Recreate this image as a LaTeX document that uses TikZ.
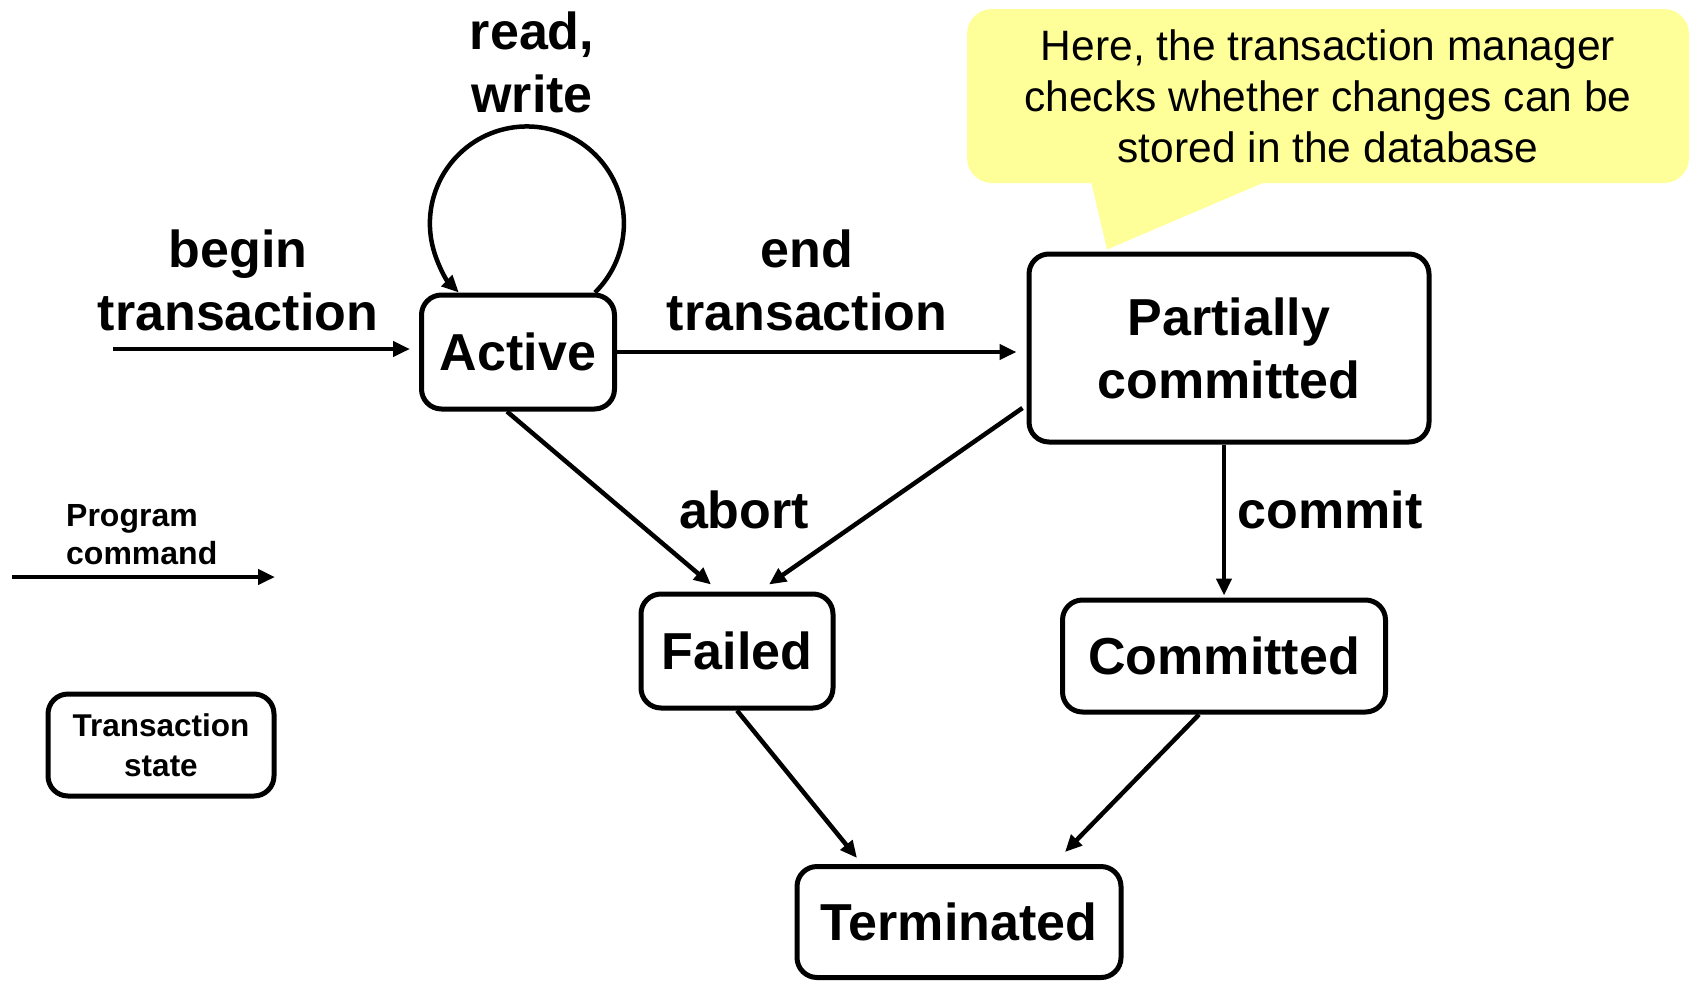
\documentclass[tikz,border=0pt]{standalone}
\usepackage{fontspec}
\setmainfont{Liberation Sans}
\usetikzlibrary{arrows.meta}
\definecolor{noteyellow}{RGB}{255,255,153}
\begin{document}
\begin{tikzpicture}[x=1pt,y=-1pt,
  state/.style={draw, line width=5pt, rounded corners=20pt, align=center, inner sep=0pt,
    font=\bfseries\fontsize{52}{63}\selectfont},
  lbl/.style={align=center, inner sep=0pt, font=\bfseries\fontsize{52}{63}\selectfont},
  arr/.style={line width=4.5pt, -{Triangle[length=17pt,width=15pt]}},
  notebox/.style={fill=noteyellow, rounded corners=25pt, align=center, inner sep=0pt,
    font=\fontsize{42.5}{51}\selectfont}]
\useasboundingbox (0,0) rectangle (1691,980);

% callout
\node[notebox, minimum width=722pt, minimum height=174pt] (note) at (1328,96)
  {Here, the transaction manager\\checks whether changes can be\\stored in the database};

% states
\node[state, minimum width=193pt, minimum height=114pt] (active) at (518,352) {Active};
\node[state, minimum width=400pt, minimum height=188pt] (partial) at (1229,348) {Partially\\committed};
\node[state, minimum width=192pt, minimum height=114pt] (failed) at (737,651) {Failed};
\node[state, minimum width=323pt, minimum height=112pt] (committed) at (1224,656) {Committed};
\node[state, minimum width=324pt, minimum height=111pt] (term) at (959,922) {Terminated};

% callout pointer
\fill[noteyellow] ([xshift=-237pt,yshift=2pt]note.south) -- ([xshift=-122pt,yshift=2pt]partial.north)
  -- ([xshift=-61pt,yshift=2pt]note.south) -- cycle;

% labels
\node[lbl] (rw) at (532,62) {read,\\write};
\node[lbl] (beginlbl) at (238,280) {begin\\transaction};
\node[lbl] (endlbl) at (807,280) {end\\transaction};
\node[lbl] (abortlbl) at (744,510) {abort};
\node[lbl] (commitlbl) at (1330,510) {commit};

% connectors
\coordinate (bstart) at (113,349);
\draw[arr, shorten >=9pt] (bstart) -- (bstart -| active.west);
\draw[arr, shorten >=10pt] (active.east) -- (active.east -| partial.west);
\draw[arr] ([xshift=77pt]active.north) arc[start angle=-45.4, end angle=225.4, radius=97pt];
\draw[arr] ([xshift=-11pt]active.south) -- ([xshift=-26pt,yshift=7pt]failed.north);
\draw[arr] ([xshift=-4pt,yshift=-60pt]partial.west) -- ([xshift=32pt,yshift=7pt]failed.north);
\draw[arr, shorten >=2pt] (partial.south -| committed.north) -- (committed.north);
\draw[arr] (failed.south) -- ([xshift=-102pt,yshift=6pt]term.north);
\draw[arr] ([xshift=-25pt]committed.south) -- ([xshift=106pt,yshift=12pt]term.north);

% legend
\node[anchor=west, align=left, inner sep=0pt, font=\bfseries\fontsize{32}{38}\selectfont] (leglbl) at (66,535) {Program\\command};
\coordinate (l1) at (12,577);
\coordinate (l2) at (275,577);
\draw[arr] (l1) -- (l2);
\node[state, minimum width=226pt, minimum height=102pt, font=\bfseries\fontsize{31.5}{40}\selectfont] (legbox) at (161,745) {Transaction\\state};
\end{tikzpicture}
\end{document}
